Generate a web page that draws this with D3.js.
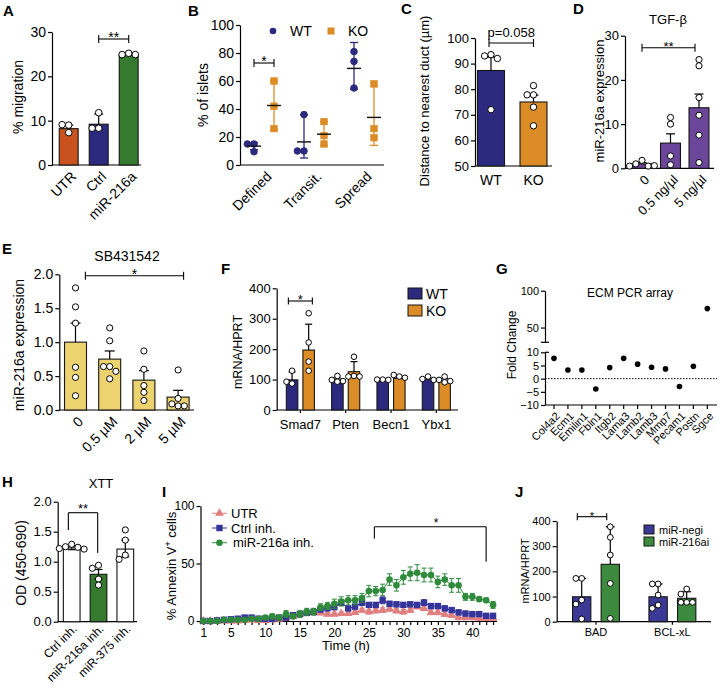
<!DOCTYPE html>
<html><head><meta charset="utf-8">
<script src="https://cdn.jsdelivr.net/npm/d3@7"></script>
<style>body{margin:0;background:#fff;}</style>
</head><body>
<script>
// ---------------- DATA ----------------
// A
const aCats = ["UTR", "Ctrl", "miR-216a"];
const aMeans = [8.2, 9.2, 24.8];
const aHi = [9.0, 11.5, 25.2];
const aPoints = [[9.0, 9.1, 7.3], [11.8, 8.3, 8.3], [25.2, 24.9, 24.9]];
// B
const bCats = ["Defined", "Transit.", "Spread"];
const bWTmean = [13.5, 16.5, 69];
const bWThi = [16, 36, 87.5];
const bWTlo = [11, 5, 54];
const bKOmean = [42.5, 22, 34];
const bKOhi = [60, 31, 56];
const bKOlo = [25, 14, 14];
const bWTpts = [[15, 15, 9.5], [36, 10, 10], [81, 74, 55]];
const bKOpts = [[60, 42, 26], [31, 21, 15], [58, 26, 19.5]];
// C
const cCats = ["WT", "KO"];
const cMeans = [87.3, 75];
const cHi = [92.5, 77.7];
const cPoints = [[93.5, 93, 92, 72], [81.4, 77.8, 77.8, 73, 65.7]];
// D
const dCats = ["0", "0.5 ng/µl", "5 ng/µl"];
const dMeans = [1.0, 5.7, 13.7];
const dHi = [1.3, 7.8, 16.8];
const dPoints = [[1.8, 1.0, 0.5, 0.5, 0.6], [11.5, 10, 2.8, 0.8], [24.6, 23.2, 16, 12, 7.5, 1.3]];
// E
const eCats = ["0", "0.5 µM", "2 µM", "5 µM"];
const eMeans = [1.0, 0.75, 0.44, 0.19];
const eHi = [1.28, 0.87, 0.58, 0.29];
const ePoints = [[1.8, 1.52, 1.28, 0.63, 0.48, 0.21], [1.21, 1.02, 0.64, 0.64, 0.57, 0.46], [0.87, 0.6, 0.36, 0.26, 0.14], [0.59, 0.17, 0.09, 0.06, 0.06]];
// F
const fCats = ["Smad7", "Pten", "Becn1", "Ybx1"];
const fWT = [99, 95, 99, 101];
const fWThi = [125, 105, 102, 105];
const fKO = [197, 126, 104, 93];
const fKOhi = [282, 159, 110, 103];
const fWTpts = [[129, 87, 93], [112, 99, 95, 93], [100, 100, 99], [110, 102, 99]];
const fKOpts = [[318, 222, 159, 129], [175, 112, 110, 110], [110, 115, 106], [110, 99, 95, 91]];
// G
const gGenes = ["Col4a2", "Ecm1", "Emilin1", "Fbln1", "Itgb2", "Lama3", "Lamb2", "Lamb3", "Mmp7", "Pecam1", "Postn", "Sgce"];
const gFold = [7.7, 3.3, 3.3, -3.9, 4.2, 7.7, 5.5, 4.3, 3.7, -3.0, 4.7, 75.7];
// H
const hCats = ["Ctrl inh.", "miR-216a inh.", "miR-375 inh."];
const hMeans = [1.23, 0.79, 1.21];
const hHi = [1.26, 0.87, 1.36];
const hLo = [1.20, 0.71, 1.08];
const hPoints = [[1.29, 1.25, 1.24, 1.22, 1.21], [0.94, 0.89, 0.71, 0.61], [1.53, 1.36, 1.11, 1.04]];
// I
const iHours = [1,2,3,4,5,6,7,8,9,10,11,12,13,14,15,16,17,18,19,20,21,22,23,24,25,26,27,28,29,30,31,32,33,34,35,36,37,38,39,40,41,42,43];
const iUTR = [0,0,0,0,0,0,0.5,1,0.5,0.5,1,1.5,2.5,4,6,7,7.5,7,6,6,6.5,6.5,7.5,9.5,8,9,9.5,10.5,9,8,9.5,12.5,11,7.5,7.5,6,5,3,3,3,2.5,2.5,2.5];
const iUTRerr = [1,1,1,1,1,1,1,1,1,1,1,1,1.5,1.5,1.5,1.5,1.5,1.5,1.5,1.5,1.5,1.5,1.5,1.5,2,2,2,2,2,2,2,2,2,2,2,2,2,2,2,2,2,2,2];
const iCtrl = [0,0,0.5,1,1.5,2,3,3,2,2,2,3,3,5,6,7,8,10,11,12,16,11,12.5,16,14,14,18,15,14.5,14,14.5,14,16,13,13,11,9.5,7.5,6.5,6,6,4.5,4.5];
const iCtrlerr = [1,1,1,1,1,1,1.5,1.5,1.5,1.5,1.5,1.5,1.5,2,2,2,2,2,2,2,2.5,2,2,2.5,2,2,3,2,2,2,2,2,2.5,2,2,2,2,2,2,2,2,2,2];
const iMiR = [0,0,0,1,1,1,1,2,2,3,4,3,6,4,6,8,8,12,13,15,17,18,18,20,26,26,27,36,31,38,41,42,40,40,34,36,31,31,21,21,19,18,14];
const iMiRerr = [1,1,1,1,1,1,1,2,1,1,2,2,3,2,3,3,3,3,3,4,4,4,4,4,5,4,5,5,5,6,6,7,6,6,5,5,6,6,3,3,2,2,3];
const iXTicks = [1, 5, 10, 15, 20, 25, 30, 35, 40];
// J
const jCats = ["BAD", "BCL-xL"];
const jNegi = [99, 99];
const jNegiHi = [172, 150];
const j216 = [228, 93];
const j216Hi = [377, 119];
const jNegiPts = [[172, 172, 86, 70, 11], [150, 150, 106, 66, 53]];
const j216Pts = [[377, 335, 265, 152, 13], [130, 110, 77, 77, 77]];

// ---------------- STYLE ----------------
const FONT = '"Liberation Sans", Arial, Helvetica, sans-serif';
const NAVY = '#2c2a7e', ORANGE = '#dc8c26', GREEN = '#367a30';

const svg = d3.select('body').append('svg').attr('width', 727).attr('height', 690)
  .attr('font-family', FONT);

// ---------------- HELPERS ----------------
function txt(g, x, y, s, fs, opt = {}) {
  const t = g.append('text').attr('x', x).attr('y', y).attr('font-size', fs)
    .attr('text-anchor', opt.anchor || 'middle').attr('fill', '#000').text(s);
  if (opt.weight) t.attr('font-weight', opt.weight);
  if (opt.dy) t.attr('dy', opt.dy);
  return t;
}
function yLabel(g, x, yc, s, fs) {
  return g.append('text').attr('transform', `translate(${x},${yc}) rotate(-90)`)
    .attr('text-anchor', 'middle').attr('dy', '0.35em').attr('font-size', fs).text(s);
}
function letter(g, x, y, s) { txt(g, x, y, s, 15, { anchor: 'start', weight: 'bold' }); }
function yAxis(g, y, x0, ticks, fmt, fs, size = 4) {
  const ax = g.append('g').attr('transform', `translate(${x0},0)`)
    .call(d3.axisLeft(y).tickValues(ticks).tickFormat(fmt).tickSize(size).tickSizeOuter(0).tickPadding(2));
  ax.selectAll('path,line').attr('stroke', '#000').attr('stroke-width', 1.2);
  ax.selectAll('text').attr('font-size', fs).attr('fill', '#000').attr('font-family', FONT);
  return ax;
}
function line(g, x1, y1, x2, y2, color = '#000', w = 1.2) {
  return g.append('line').attr('x1', x1).attr('y1', y1).attr('x2', x2).attr('y2', y2)
    .attr('stroke', color).attr('stroke-width', w);
}
function bracket(g, x1, x2, y, cap = 8) {
  line(g, x1, y, x2, y, '#000', 1.1);
  line(g, x1, y - cap / 2, x1, y + cap / 2, '#000', 1.1);
  line(g, x2, y - cap / 2, x2, y + cap / 2, '#000', 1.1);
}
function errBar(g, cx, yFrom, yTo, capW, color = '#000', w = 1.2) {
  line(g, cx, yFrom, cx, yTo, color, w);
  line(g, cx - capW / 2, yTo, cx + capW / 2, yTo, color, w);
}
function swarm(vals, y, r) {
  const placed = [];
  return vals.map(v => {
    const py = y(v);
    for (const k of [0, -1, 1, -2, 2, -3, 3]) {
      const px = k * r * 2.0;
      if (placed.every(p => (p[0] - px) ** 2 + (p[1] - py) ** 2 >= (2 * r) ** 2 * 0.9)) {
        placed.push([px, py]); return [px, py];
      }
    }
    placed.push([0, py]); return [0, py];
  });
}
function dots(g, cx, vals, y, r = 3.2, fill = '#fff', stroke = '#000', shape = 'circle') {
  swarm(vals, y, r).forEach(([dx, py]) => {
    if (shape === 'circle') {
      g.append('circle').attr('cx', cx + dx).attr('cy', py).attr('r', r)
        .attr('fill', fill).attr('stroke', stroke).attr('stroke-width', 1);
    } else {
      g.append('rect').attr('x', cx + dx - r).attr('y', py - r).attr('width', 2 * r).attr('height', 2 * r)
        .attr('fill', fill).attr('stroke', stroke).attr('stroke-width', 0.6);
    }
  });
}
function bar(g, x, w, y, v, base, fill) {
  g.append('rect').attr('x', x).attr('y', y(v)).attr('width', w).attr('height', y(base) - y(v))
    .attr('fill', fill).attr('stroke', '#151515').attr('stroke-width', 1.1);
}
function rotLabel(g, x, y, s, fs) {
  g.append('text').attr('transform', `translate(${x},${y}) rotate(-45)`)
    .attr('text-anchor', 'end').attr('dy', '0.35em').attr('font-size', fs).text(s);
}

// ---------------- PANEL A ----------------
{
  const g = svg.append('g');
  const y = d3.scaleLinear([0, 30], [165, 32]);
  const x = d3.scaleBand(aCats, [53.7, 143.7]).paddingInner(0.37).paddingOuter(0.185);
  const col = ['#c8531f', NAVY, GREEN];
  yAxis(g, y, 52, [0, 10, 20, 30], d3.format('d'), 14);
  line(g, 52, y(0), 141, y(0));
  aCats.forEach((c, i) => {
    const cx = x(c) + x.bandwidth() / 2;
    bar(g, x(c), x.bandwidth(), y, aMeans[i], 0, col[i]);
    errBar(g, cx, y(aMeans[i]), y(aHi[i]), 9);
    dots(g, cx, aPoints[i], y, 3.3);
    rotLabel(g, cx + 5, y(0) + 9, c, 14);
  });
  const c1 = x('Ctrl') + x.bandwidth() / 2, c2 = x('miR-216a') + x.bandwidth() / 2;
  bracket(g, c1, c2, 39, 8);
  txt(g, (c1 + c2) / 2, 42, '**', 14);
  yLabel(g, 18, 97, '% migration', 14);
  letter(g, 3, 16, 'A');
}

// ---------------- PANEL B ----------------
{
  const g = svg.append('g');
  const y = d3.scaleLinear([0, 100], [165, 25]);
  const x = d3.scaleBand(bCats, [239, 389]);
  yAxis(g, y, 240, [0, 20, 40, 60, 80, 100], d3.format('d'), 14);
  line(g, 240, y(0), 384, y(0));
  const series = [
    { off: -10, mean: bWTmean, hi: bWThi, lo: bWTlo, pts: bWTpts, col: NAVY, shape: 'circle' },
    { off: 10, mean: bKOmean, hi: bKOhi, lo: bKOlo, pts: bKOpts, col: ORANGE, shape: 'square' }
  ];
  bCats.forEach((c, i) => {
    const gc = x(c) + x.bandwidth() / 2;
    series.forEach(s => {
      const cx = gc + s.off;
      line(g, cx, y(s.lo[i]), cx, y(s.hi[i]), s.col, 1.3);
      line(g, cx - 4, y(s.hi[i]), cx + 4, y(s.hi[i]), s.col, 1.3);
      line(g, cx - 4, y(s.lo[i]), cx + 4, y(s.lo[i]), s.col, 1.3);
      dots(g, cx, s.pts[i], y, 3.3, s.col, s.col, s.shape);
      line(g, cx - 7, y(s.mean[i]), cx + 7, y(s.mean[i]), '#111', 1.4);
    });
    rotLabel(g, gc + 5, y(0) + 9, c, 14);
  });
  const d1 = x('Defined') + x.bandwidth() / 2;
  bracket(g, d1 - 10, d1 + 10, 63, 8);
  txt(g, d1, 66, '*', 14);
  // legend
  g.append('circle').attr('cx', 273).attr('cy', 31).attr('r', 3.3).attr('fill', NAVY);
  txt(g, 290, 36, 'WT', 14, { anchor: 'start' });
  g.append('rect').attr('x', 327.5).attr('y', 27.5).attr('width', 7).attr('height', 7).attr('fill', ORANGE);
  txt(g, 348, 36, 'KO', 14, { anchor: 'start' });
  yLabel(g, 203, 95, '% of islets', 14);
  letter(g, 188, 16, 'B');
}

// ---------------- PANEL C ----------------
{
  const g = svg.append('g');
  const y = d3.scaleLinear([50, 100], [166, 38]);
  const x = d3.scaleBand(cCats, [469.75, 554.75]).paddingInner(0.365).paddingOuter(0.1825);
  const col = [NAVY, ORANGE];
  yAxis(g, y, 475, [50, 60, 70, 80, 90, 100], d3.format('d'), 13);
  line(g, 475, y(50), 552, y(50));
  cCats.forEach((c, i) => {
    const cx = x(c) + x.bandwidth() / 2;
    bar(g, x(c), x.bandwidth(), y, cMeans[i], 50, col[i]);
    errBar(g, cx, y(cMeans[i]), y(cHi[i]), 10);
    dots(g, cx, cPoints[i], y, 3.2);
    txt(g, cx, 185, c, 14);
  });
  const c1 = x('WT') + x.bandwidth() / 2, c2 = x('KO') + x.bandwidth() / 2;
  bracket(g, c1 - 2, c2, 43, 8);
  txt(g, (c1 + c2) / 2 - 1, 37, 'p=0.058', 13);
  yLabel(g, 424, 101, 'Distance to nearest duct (µm)', 13);
  letter(g, 401, 14, 'C');
}

// ---------------- PANEL D ----------------
{
  const g = svg.append('g');
  const y = d3.scaleLinear([0, 30], [168.3, 35.7]);
  const x = d3.scaleBand(dCats, [627.75, 713.25]).paddingInner(0.3).paddingOuter(0.15);
  const col = '#6b469a';
  yAxis(g, y, 625, [0, 10, 20, 30], d3.format('d'), 13);
  line(g, 625, y(0), 714, y(0));
  dCats.forEach((c, i) => {
    const cx = x(c) + x.bandwidth() / 2;
    bar(g, x(c), x.bandwidth(), y, dMeans[i], 0, col);
    errBar(g, cx, y(dMeans[i]), y(dHi[i]), 9);
    dots(g, cx, dPoints[i], y, 3.1);
    rotLabel(g, cx + 5, y(0) + 9, c, 13);
  });
  const c1 = x('0') + x.bandwidth() / 2, c2 = x('5 ng/µl') + x.bandwidth() / 2;
  bracket(g, c1, c2 - 4, 47.7, 8);
  txt(g, (c1 + c2 - 4) / 2, 51, '**', 13);
  txt(g, 668, 24, 'TGF-β', 13);
  yLabel(g, 599, 101, 'miR-216a expression', 13);
  letter(g, 573, 14, 'D');
}

// ---------------- PANEL E ----------------
{
  const g = svg.append('g');
  const y = d3.scaleLinear([0, 2], [410, 274.3]);
  const x = d3.scaleBand(eCats, [58.4, 195.2]).paddingInner(0.357).paddingOuter(0.1785);
  const col = '#ecd370';
  yAxis(g, y, 59.3, [0, 0.5, 1, 1.5, 2], d3.format('.1f'), 14);
  line(g, 59.3, y(0), 194, y(0));
  eCats.forEach((c, i) => {
    const cx = x(c) + x.bandwidth() / 2;
    bar(g, x(c), x.bandwidth(), y, eMeans[i], 0, col);
    errBar(g, cx, y(eMeans[i]), y(eHi[i]), 10);
    dots(g, cx, ePoints[i], y, 3.1);
    rotLabel(g, cx + 5, y(0) + 9, c, 14);
  });
  const c1 = x('0') + x.bandwidth() * 0.95, c2 = x('5 µM') + x.bandwidth() * 0.75;
  bracket(g, c1, c2, 275.7, 8);
  txt(g, (c1 + c2) / 2, 279, '*', 14);
  txt(g, 127, 261, 'SB431542', 14);
  yLabel(g, 19, 345, 'miR-216a expression', 14);
  letter(g, 2, 254, 'E');
}

// ---------------- PANEL F ----------------
{
  const g = svg.append('g');
  const y = d3.scaleLinear([0, 400], [410, 288.3]);
  const x = d3.scaleBand(fCats, [277.7, 459]);
  yAxis(g, y, 276.7, [0, 100, 200, 300, 400], d3.format('d'), 13);
  line(g, 276.7, y(0), 458, y(0));
  const bw = 11.5;
  fCats.forEach((c, i) => {
    const gc = x(c) + x.bandwidth() / 2;
    line(g, gc, y(0), gc, y(0) + 3);
    [[-8.3, fWT, fWThi, fWTpts, NAVY], [8.3, fKO, fKOhi, fKOpts, ORANGE]].forEach(([off, m, hi, pts, col]) => {
      const cx = gc + off;
      bar(g, cx - bw / 2, bw, y, m[i], 0, col);
      errBar(g, cx, y(m[i]), y(hi[i]), 7);
      dots(g, cx, pts[i], y, 2.8);
    });
    txt(g, gc, 429, c, 13);
  });
  const s1 = x('Smad7') + x.bandwidth() / 2;
  bracket(g, s1 - 12, s1 + 12, 301, 7);
  txt(g, s1, 304, '*', 13);
  g.append('rect').attr('x', 408).attr('y', 288).attr('width', 14).attr('height', 11)
    .attr('fill', NAVY).attr('stroke', '#151515').attr('stroke-width', 1);
  txt(g, 426, 298.5, 'WT', 14, { anchor: 'start' });
  g.append('rect').attr('x', 408).attr('y', 305).attr('width', 14).attr('height', 11)
    .attr('fill', ORANGE).attr('stroke', '#151515').attr('stroke-width', 1);
  txt(g, 426, 315.5, 'KO', 14, { anchor: 'start' });
  yLabel(g, 238, 352, 'mRNA/HPRT', 12.5);
  letter(g, 221, 274, 'F');
}

// ---------------- PANEL G ----------------
{
  const g = svg.append('g');
  const x0 = 545;
  const yU = d3.scaleLinear([30, 100], [342.3, 290.7]);
  const yL = d3.scaleLinear([-10, 10], [405, 352.3]);
  const x = d3.scaleBand(gGenes, [547, 714.3]);
  yAxis(g, yU, x0, [50, 100], d3.format('d'), 11);
  yAxis(g, yL, x0, [-10, -5, 0, 5, 10], d3.format('d'), 11);
  line(g, x0 - 4, yU(30), x0 + 4, yU(30));
  line(g, x0, yL(10), x0 + 4, yL(10));
  line(g, x0, yL(-10), 717, yL(-10));
  g.append('line').attr('x1', x0).attr('x2', 717).attr('y1', yL(0)).attr('y2', yL(0))
    .attr('stroke', '#000').attr('stroke-width', 1).attr('stroke-dasharray', '1.5,1.5');
  gGenes.forEach((c, i) => {
    const cx = x(c) + x.bandwidth() / 2;
    line(g, cx, yL(-10), cx, yL(-10) + 4);
    const v = gFold[i];
    g.append('circle').attr('cx', cx).attr('cy', v > 10 ? yU(v) : yL(v)).attr('r', 2.8).attr('fill', '#000');
    rotLabel(g, cx + 4, yL(-10) + 9, c, 11);
  });
  txt(g, 630, 297, 'ECM PCR array', 12);
  yLabel(g, 512, 345, 'Fold Change', 12);
  letter(g, 496, 274, 'G');
}

// ---------------- PANEL H ----------------
{
  const g = svg.append('g');
  const y = d3.scaleLinear([0, 2], [621.7, 501.7]);
  const x = d3.scaleBand(hCats, [58.3, 138.7]).paddingInner(0.377).paddingOuter(0.1885);
  const col = ['#ffffff', GREEN, '#ffffff'];
  yAxis(g, y, 57.7, [0, 0.5, 1, 1.5, 2], d3.format('.1f'), 13);
  line(g, 57.7, y(0), 137, y(0));
  hCats.forEach((c, i) => {
    const cx = x(c) + x.bandwidth() / 2;
    bar(g, x(c), x.bandwidth(), y, hMeans[i], 0, col[i]);
    errBar(g, cx, y(hMeans[i]), y(hHi[i]), 8);
    errBar(g, cx, y(hMeans[i]), y(hLo[i]), 8);
    dots(g, cx, hPoints[i], y, 3.1);
    rotLabel(g, cx + 3, y(0) + 5, c, 12);
  });
  const c1 = x(hCats[0]) + x.bandwidth() * 0.3, c2 = x(hCats[1]) + x.bandwidth() * 0.45;
  line(g, c1, 530, c1, 512.7, '#000', 1.1);
  line(g, c1, 512.7, c2, 512.7, '#000', 1.1);
  line(g, c2, 512.7, c2, 553, '#000', 1.1);
  txt(g, (c1 + c2) / 2, 513, '**', 13);
  txt(g, 101, 488, 'XTT', 13);
  yLabel(g, 21, 563, 'OD (450-690)', 14);
  letter(g, 2, 487, 'H');
}

// ---------------- PANEL I ----------------
{
  const g = svg.append('g');
  const y = d3.scaleLinear([0, 100], [621, 506]);
  const x = d3.scaleLinear([0.6, 43.5], [200.5, 496.5]);
  yAxis(g, y, 200.5, [0, 50, 100], d3.format('d'), 12);
  const xa = g.append('g').attr('transform', `translate(0,${y(0)})`)
    .call(d3.axisBottom(x).tickValues(iHours).tickSize(4).tickSizeOuter(0).tickPadding(3)
      .tickFormat(d => iXTicks.includes(d) ? d : ''));
  xa.selectAll('path,line').attr('stroke', '#000').attr('stroke-width', 1.2);
  xa.selectAll('text').attr('font-size', 12).attr('font-family', FONT).attr('fill', '#000');
  const series = [
    { v: iUTR, e: iUTRerr, col: '#e07f80', shape: 'tri', name: 'UTR' },
    { v: iCtrl, e: iCtrlerr, col: '#35349a', shape: 'sq', name: 'Ctrl inh.' },
    { v: iMiR, e: iMiRerr, col: '#2f8a3c', shape: 'circ', name: 'miR-216a inh.' }
  ];
  function marker(gg, cx, cy, s) {
    if (s.shape === 'circ') gg.append('circle').attr('cx', cx).attr('cy', cy).attr('r', 3.3).attr('fill', s.col);
    else if (s.shape === 'sq') gg.append('rect').attr('x', cx - 3.2).attr('y', cy - 3.2).attr('width', 6.4).attr('height', 6.4).attr('fill', s.col);
    else gg.append('path').attr('d', d3.symbol(d3.symbolTriangle, 34)()).attr('transform', `translate(${cx},${cy})`).attr('fill', s.col);
  }
  series.forEach(s => {
    const gg = g.append('g');
    gg.append('path').datum(iHours).attr('fill', 'none').attr('stroke', s.col).attr('stroke-width', 1)
      .attr('d', d3.line().x(h => x(h)).y((h, i) => y(s.v[i])));
    iHours.forEach((h, i) => {
      const cx = x(h);
      const lo = Math.max(0, s.v[i] - s.e[i]), hi = s.v[i] + s.e[i];
      line(gg, cx, y(lo), cx, y(hi), s.col, 1);
      line(gg, cx - 2.5, y(hi), cx + 2.5, y(hi), s.col, 1);
      line(gg, cx - 2.5, y(lo), cx + 2.5, y(lo), s.col, 1);
      marker(gg, cx, y(s.v[i]), s);
    });
  });
  // legend
  series.forEach((s, k) => {
    const ly = 513.3 + k * 14.7;
    line(g, 212, ly, 227, ly, s.col, 1);
    marker(g, 219.5, ly, s);
    txt(g, k === 2 ? 233 : 231, ly + 4.5, s.name, 13, { anchor: 'start' });
  });
  // significance bracket
  const bx1 = x(25.8), bx2 = x(42);
  line(g, bx1, 538.5, bx1, 526.7, '#000', 1.1);
  line(g, bx1, 526.7, bx2, 526.7, '#000', 1.1);
  line(g, bx2, 526.7, bx2, 561.7, '#000', 1.1);
  txt(g, 436, 527, '*', 12);
  // y label with superscript
  const yl = g.append('text').attr('transform', 'translate(171,566) rotate(-90)')
    .attr('text-anchor', 'middle').attr('dy', '0.35em').attr('font-size', 13);
  yl.append('tspan').text('% Annexin V');
  yl.append('tspan').attr('dy', -5).attr('font-size', 9).text('+');
  yl.append('tspan').attr('dy', 5).text(' cells');
  txt(g, 346, 650, 'Time (h)', 13);
  letter(g, 162, 497, 'I');
}

// ---------------- PANEL J ----------------
{
  const g = svg.append('g');
  const y = d3.scaleLinear([0, 400], [621.7, 521]);
  const x = d3.scaleBand(jCats, [557.8, 710.6]);
  yAxis(g, y, 556.7, [0, 100, 200, 300, 400], d3.format('d'), 11);
  line(g, 556.7, y(0), 711, y(0));
  const bw = 18.3;
  const NEGI = '#3a3995', J216 = '#3b8a3d';
  jCats.forEach((c, i) => {
    const gc = x(c) + x.bandwidth() / 2;
    line(g, gc, y(0), gc, y(0) + 3);
    [[-14.3, jNegi, jNegiHi, jNegiPts, NEGI], [14.3, j216, j216Hi, j216Pts, J216]].forEach(([off, m, hi, pts, col]) => {
      const cx = gc + off;
      bar(g, cx - bw / 2, bw, y, m[i], 0, col);
      errBar(g, cx, y(m[i]), y(hi[i]), 9);
      dots(g, cx, pts[i], y, 2.9);
    });
    txt(g, gc, 636, c, 11);
  });
  const b = x('BAD') + x.bandwidth() / 2;
  bracket(g, b - 18.7, b + 10.7, 516.7, 7);
  txt(g, b - 4, 519.5, '*', 11);
  g.append('rect').attr('x', 644).attr('y', 525).attr('width', 10).attr('height', 9)
    .attr('fill', NEGI).attr('stroke', '#151515').attr('stroke-width', 1);
  txt(g, 659, 533.5, 'miR-negi', 11, { anchor: 'start' });
  g.append('rect').attr('x', 644).attr('y', 537).attr('width', 10).attr('height', 9)
    .attr('fill', J216).attr('stroke', '#151515').attr('stroke-width', 1);
  txt(g, 659, 545.5, 'miR-216ai', 11, { anchor: 'start' });
  yLabel(g, 525, 571, 'mRNA/HPRT', 11);
  letter(g, 515, 497, 'J');
}
</script>
</body></html>
